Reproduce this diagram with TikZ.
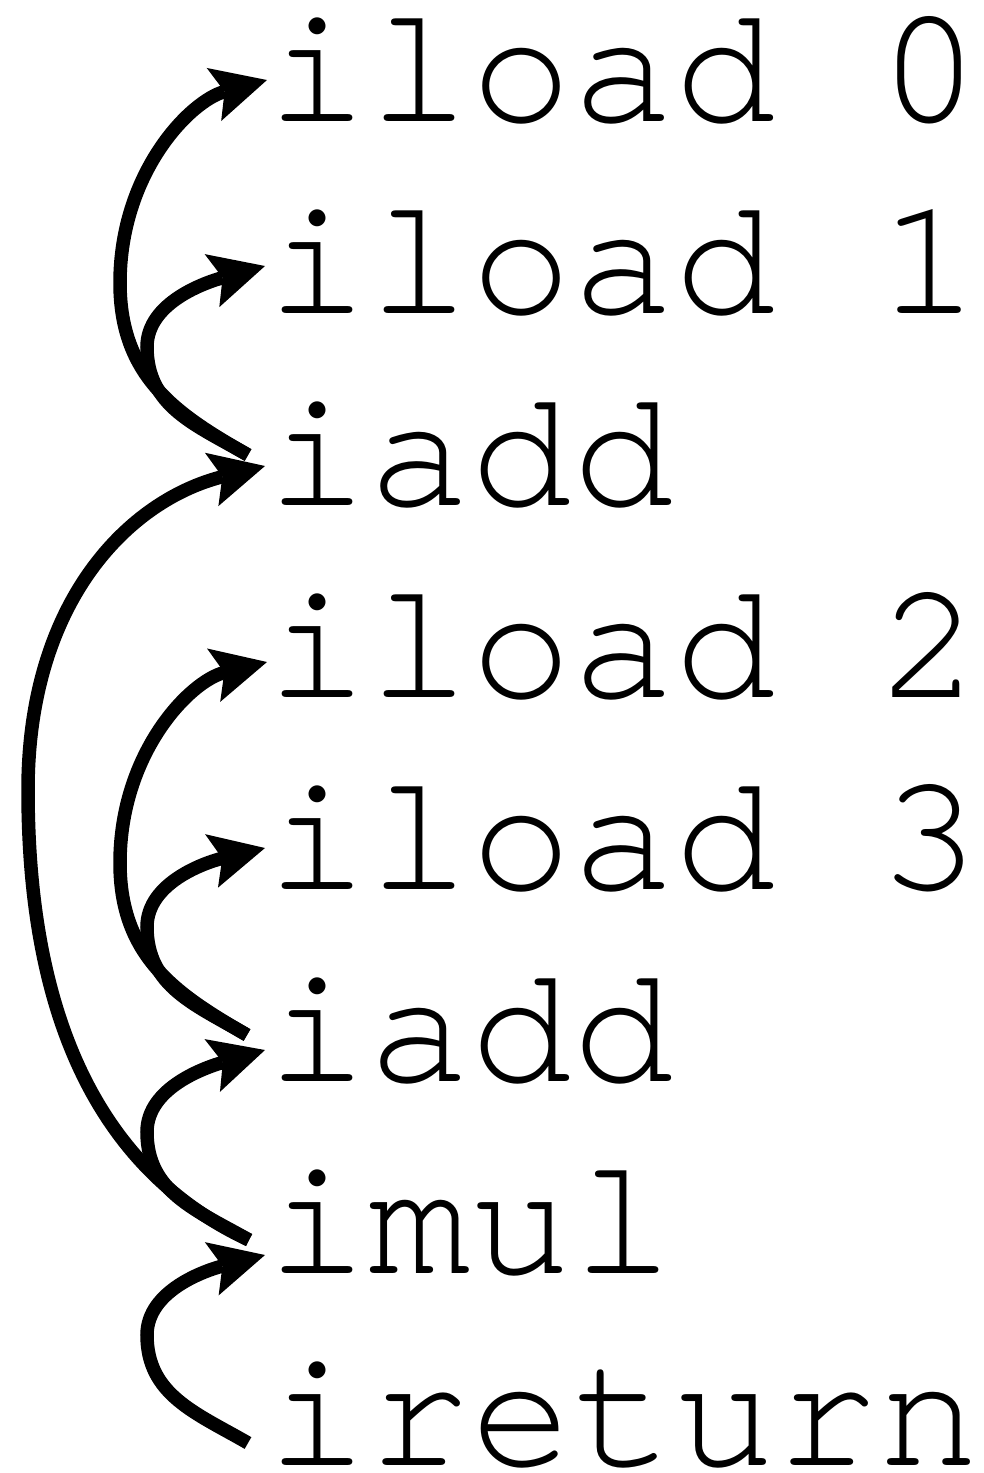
\documentclass[tikz,border=0pt]{standalone}
\usepackage{fontspec}
\newfontfamily\codefont{TeX Gyre Cursor}
\usetikzlibrary{arrows.meta}
\tikzset{
  codeline/.style={anchor=base west, inner sep=0pt, outer sep=0pt,
    font=\fontsize{170pt}{192pt}\selectfont\codefont},
  flow/.style={line width=13.5pt, black,
    -{Stealth[length=55pt,width=55pt,inset=11pt,line width=0pt]}}
}
\begin{document}
\begin{tikzpicture}[x=1pt,y=-1pt]
\fill[white] (0,0) rectangle (984,1473);
\useasboundingbox (0,0) rectangle (984,1473);
% code lines
\node[codeline] (l1) at (266,121)  {iload 0};
\node[codeline] (l2) at (266,313)  {iload 1};
\node[codeline] (l3) at (266,505)  {iadd};
\node[codeline] (l4) at (266,697)  {iload 2};
\node[codeline] (l5) at (266,889)  {iload 3};
\node[codeline] (l6) at (266,1081) {iadd};
\node[codeline] (l7) at (266,1273) {imul};
\node[codeline] (l8) at (266,1465) {ireturn};
% connector ends
\coordinate (s3) at (248,455);
\coordinate (s6) at (247,1035);
\coordinate (s7) at (249,1240);
\coordinate (s8) at (248,1443);
\coordinate (t1) at (267,80);
\coordinate (t2) at (265,266);
\coordinate (t3) at (265,466);
\coordinate (t4) at (267,662);
\coordinate (t5) at (265,848);
\coordinate (t6) at (265,1050);
\coordinate (t7) at (265,1255);
% arrows
\draw[flow] (s3) .. controls (178,415) and (120,378) .. (120,283)
                 .. controls (120,173) and (190,101) .. (t1);
\draw[flow] (s3) .. controls (196,425) and (147,407) .. (147,347)
                 .. controls (147,302) and (207,282) .. (t2);
\draw[flow] (s7) .. controls (114,1177) and (28,1040) .. (28,790)
                 .. controls (28,600) and (130,500) .. (t3);
\draw[flow] (s6) .. controls (178,995) and (120,958) .. (120,863)
                 .. controls (120,753) and (190,681) .. (t4);
\draw[flow] (s6) .. controls (196,1005) and (147,987) .. (147,927)
                 .. controls (147,882) and (207,862) .. (t5);
\draw[flow] (s7) .. controls (196,1210) and (147,1192) .. (147,1132)
                 .. controls (147,1087) and (207,1067) .. (t6);
\draw[flow] (s8) .. controls (196,1413) and (147,1395) .. (147,1335)
                 .. controls (147,1290) and (207,1270) .. (t7);
\end{tikzpicture}
\end{document}
